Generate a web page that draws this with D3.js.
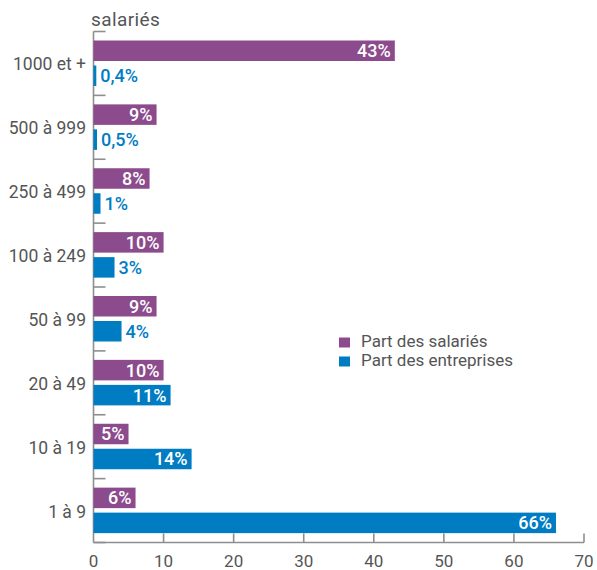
<!DOCTYPE html>
<html>
<head>
<meta charset="utf-8">
<script src="https://cdn.jsdelivr.net/npm/d3@7"></script>
<style>
  html, body { margin: 0; padding: 0; background: #fff; }
  svg { display: block; font-family: Roboto, "DejaVu Sans", sans-serif; }
</style>
</head>
<body>
<svg id="chart" width="597" height="570"></svg>
<script>
// Size classes (number of employees), top to bottom
const categories = ["1000 et +", "500 à 999", "250 à 499", "100 à 249", "50 à 99", "20 à 49", "10 à 19", "1 à 9"];
// Share of employees (%)
const partSalaries = [43, 9, 8, 10, 9, 10, 5, 6];
// Share of companies (%)
const partEntreprises = [0.4, 0.5, 1, 3, 4, 11, 14, 66];
const xTicks = [0, 10, 20, 30, 40, 50, 60, 70];
const seriesNames = ["Part des salariés", "Part des entreprises"];

const purple = "#8b4b8d";
const blue = "#007cc3";
const axisGrey = "#8e8e8e";
const textGrey = "#555555";

const svg = d3.select("#chart");

const x = d3.scaleLinear().domain([0, 70]).range([93.5, 584]);
const y = d3.scaleBand().domain(categories).range([31.5, 542.5]).padding(0);

const barH = 20.5;
const fmt = v => String(v).replace(".", ",") + "%";

// Axis lines
svg.append("line")
  .attr("x1", x(0)).attr("x2", x(0))
  .attr("y1", y.range()[0]).attr("y2", y.range()[1])
  .attr("stroke", axisGrey).attr("stroke-width", 1.6);
svg.append("line")
  .attr("x1", x(0)).attr("x2", x(70))
  .attr("y1", y.range()[1]).attr("y2", y.range()[1])
  .attr("stroke", axisGrey).attr("stroke-width", 1.6);

// Category boundary ticks on the vertical axis (pointing inward)
const bounds = categories.map(c => y(c)).concat([y.range()[1]]);
svg.append("g").selectAll("line").data(bounds).join("line")
  .attr("x1", x(0)).attr("x2", x(0) + 12)
  .attr("y1", d => d).attr("y2", d => d)
  .attr("stroke", axisGrey).attr("stroke-width", 1.6);

// Value ticks on the horizontal axis (pointing up)
svg.append("g").selectAll("line").data(xTicks.slice(1)).join("line")
  .attr("x1", d => x(d)).attr("x2", d => x(d))
  .attr("y1", y.range()[1]).attr("y2", y.range()[1] - 9)
  .attr("stroke", axisGrey).attr("stroke-width", 1.6);

svg.append("g").selectAll("text").data(xTicks).join("text")
  .attr("x", d => x(d)).attr("y", 567)
  .attr("text-anchor", "middle")
  .attr("font-size", 17).attr("fill", textGrey)
  .text(d => d);

// Category labels
svg.append("g").selectAll("text").data(categories).join("text")
  .attr("x", 86).attr("y", d => y(d) + y.bandwidth() / 2 + 7)
  .attr("text-anchor", "end")
  .attr("font-size", 17.5).attr("fill", textGrey)
  .text(d => d);

// Axis title
svg.append("text")
  .attr("x", 91).attr("y", 26)
  .attr("font-size", 19).attr("letter-spacing", 0.4).attr("fill", textGrey)
  .text("salariés");

// Bars
const rows = categories.map((c, i) => ({ c, s: partSalaries[i], e: partEntreprises[i] }));

svg.append("g").selectAll("rect").data(rows).join("rect")
  .attr("x", x(0)).attr("y", d => y(d.c) + 9)
  .attr("width", d => x(d.s) - x(0)).attr("height", barH)
  .attr("fill", purple);

svg.append("g").selectAll("rect").data(rows).join("rect")
  .attr("x", x(0)).attr("y", d => y(d.c) + 34)
  .attr("width", d => x(d.e) - x(0)).attr("height", barH)
  .attr("fill", blue);

// Value labels: inside the bar end in white, or just outside in the series colour when the bar is short
const labelFont = 18;
svg.append("g").selectAll("text").data(rows).join("text")
  .attr("x", d => x(d.s) - 4).attr("y", d => y(d.c) + 9 + barH / 2)
  .attr("dy", "0.36em")
  .attr("text-anchor", "end")
  .attr("font-size", labelFont).attr("font-weight", 500).attr("fill", "#fff")
  .text(d => fmt(d.s));

svg.append("g").selectAll("text").data(rows).join("text")
  .attr("x", d => d.e >= 10 ? x(d.e) - 4 : x(d.e) + 4)
  .attr("y", d => y(d.c) + 34 + barH / 2)
  .attr("dy", "0.36em")
  .attr("text-anchor", d => d.e >= 10 ? "end" : "start")
  .attr("font-size", labelFont).attr("font-weight", 500)
  .attr("fill", d => d.e >= 10 ? "#fff" : blue)
  .text(d => fmt(d.e));

// Legend
const legend = svg.append("g").attr("transform", "translate(339,338)");
const legendColors = [purple, blue];
seriesNames.forEach((name, i) => {
  legend.append("rect")
    .attr("x", 0).attr("y", i * 19 - 0.5)
    .attr("width", 11).attr("height", 10)
    .attr("fill", legendColors[i]);
  legend.append("text")
    .attr("x", 22).attr("y", i * 19 + 9)
    .attr("font-size", 17).attr("fill", textGrey)
    .text(name);
});
</script>
</body>
</html>
